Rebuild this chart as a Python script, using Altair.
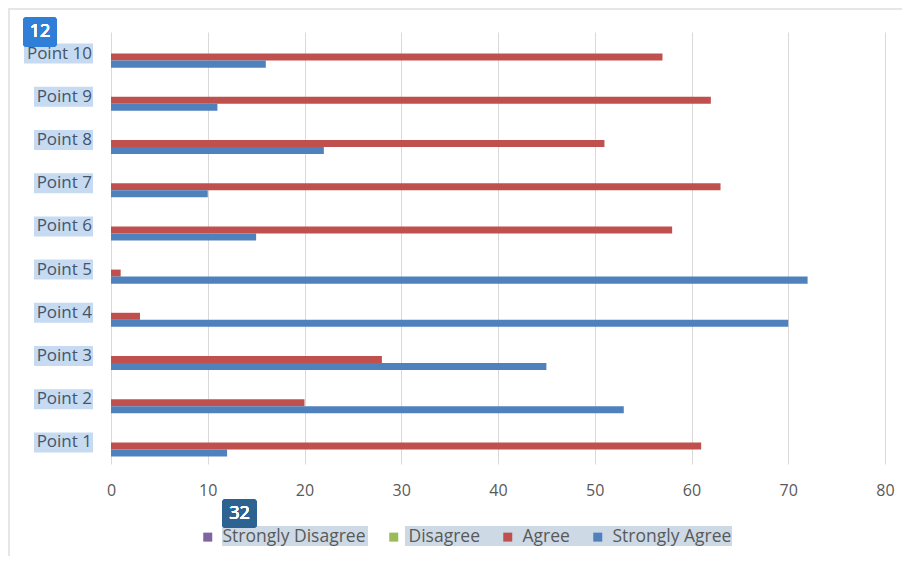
import altair as alt
import pandas as pd

points = ["Point 1", "Point 2", "Point 3", "Point 4", "Point 5",
          "Point 6", "Point 7", "Point 8", "Point 9", "Point 10"]
strongly_disagree = [0, 0, 0, 0, 0, 0, 0, 0, 0, 0]
disagree = [0, 0, 0, 0, 0, 0, 0, 0, 0, 0]
agree = [61, 20, 28, 3, 1, 58, 63, 51, 62, 57]
strongly_agree = [12, 53, 45, 70, 72, 15, 10, 22, 11, 16]

series = ["Strongly Disagree", "Disagree", "Agree", "Strongly Agree"]
colors = ["#8064A2", "#9BBB59", "#C0504D", "#4F81BD"]
x_ticks = [0, 10, 20, 30, 40, 50, 60, 70, 80]

rows = []
for name, vals in zip(series, [strongly_disagree, disagree, agree, strongly_agree]):
    for p, v in zip(points, vals):
        rows.append({"point": p, "series": name, "value": v})
df = pd.DataFrame(rows)
labels_df = pd.DataFrame({"point": points})

y_sort = points[::-1]
y_scale = alt.Scale(paddingInner=0.35, paddingOuter=0.175)
FONT = "Open Sans"

bars = alt.Chart(df).mark_bar().encode(
    x=alt.X("value:Q", scale=alt.Scale(domain=[0, 80]),
            axis=alt.Axis(values=x_ticks, title=None, grid=True, gridColor="#D9D9D9",
                          ticks=False, domain=False, labelFontSize=16,
                          labelColor="#595959", labelPadding=18, labelFont=FONT,
                          labelFlush=False)),
    y=alt.Y("point:N", sort=y_sort, scale=y_scale, axis=None),
    yOffset=alt.YOffset("series:N", sort=series),
    color=alt.Color("series:N", sort=series,
                    scale=alt.Scale(domain=series, range=colors),
                    legend=alt.Legend(orient="none", legendX=88, legendY=496,
                                      direction="horizontal", title=None,
                                      symbolType="square", symbolSize=81,
                                      symbolStrokeWidth=0,
                                      labelFontSize=17.5, labelColor="#595959",
                                      labelFont=FONT, columnPadding=19,
                                      labelOffset=6, zindex=1)),
)

hl_short = alt.Chart(labels_df).transform_filter(
    alt.datum.point != "Point 10"
).mark_bar(size=20, color="#C6DBF1").encode(
    y=alt.Y("point:N", sort=y_sort, scale=y_scale, axis=None),
    x=alt.value(-77), x2=alt.value(-18),
)
hl_long = alt.Chart(labels_df).transform_filter(
    alt.datum.point == "Point 10"
).mark_bar(size=20, color="#C6DBF1").encode(
    y=alt.Y("point:N", sort=y_sort, scale=y_scale, axis=None),
    x=alt.value(-87), x2=alt.value(-18),
)
y_labels = alt.Chart(labels_df).mark_text(
    align="right", baseline="middle", fontSize=17, color="#44546A", font=FONT
).encode(
    y=alt.Y("point:N", sort=y_sort, scale=y_scale, axis=None),
    x=alt.value(-19),
    text="point:N",
)

leg_hl1 = alt.Chart(labels_df).mark_rect(color="#CDDAE5").encode(
    x=alt.value(111), x2=alt.value(257), y=alt.value(494), y2=alt.value(514))
leg_hl2 = alt.Chart(labels_df).mark_rect(color="#CDDAE5").encode(
    x=alt.value(294), x2=alt.value(621), y=alt.value(494), y2=alt.value(514))

frame = alt.Chart(labels_df).mark_rect(fill=None, stroke="#E6E6E6", strokeWidth=2).encode(
    x=alt.value(-102), x2=alt.value(820), y=alt.value(-23), y2=alt.value(560))

badge1 = alt.Chart(labels_df).mark_rect(color="#2F7ED8", cornerRadius=4).encode(
    x=alt.value(-88), x2=alt.value(-54), y=alt.value(-15), y2=alt.value(15))
badge1_t = alt.Chart(labels_df).mark_text(text="12", color="white", fontSize=18,
                                          font=FONT, fontWeight="normal").encode(
    x=alt.value(-71), y=alt.value(0))
badge2 = alt.Chart(labels_df).mark_rect(color="#2D6391", cornerRadius=4).encode(
    x=alt.value(111), x2=alt.value(146), y=alt.value(467), y2=alt.value(496))
badge2_t = alt.Chart(labels_df).mark_text(text="32", color="white", fontSize=18,
                                          font=FONT, fontWeight="normal").encode(
    x=alt.value(128.5), y=alt.value(481.5))

chart = alt.layer(
    frame, hl_short, hl_long, y_labels, leg_hl1, leg_hl2, bars,
    badge1, badge1_t, badge2, badge2_t
).properties(
    width=774, height=432,
    autosize=alt.AutoSizeParams(type="none"),
    padding={"left": 103, "top": 24, "right": 17, "bottom": 92},
    background="white",
).configure(font=FONT).configure_view(stroke=None)

chart.save("out.html", embed_options={"renderer": "svg", "actions": False})
